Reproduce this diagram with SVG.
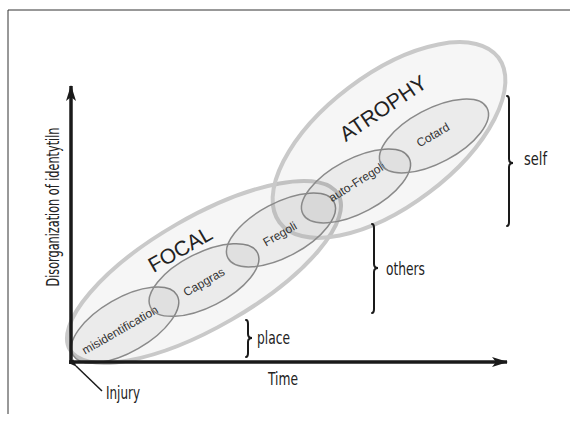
<svg xmlns="http://www.w3.org/2000/svg" width="570" height="423" viewBox="0 0 570 423">
<defs>
<style>
.big{fill:#000;fill-opacity:0.035;stroke:#c9c9c9;stroke-width:4}
.small{fill:#000;fill-opacity:0.045;stroke:#8a8a8a;stroke-width:1.5}
.lbl{font-family:"Liberation Sans",Arial,sans-serif;font-size:12px;fill:#333;text-anchor:middle;dominant-baseline:central}
.big-lbl{font-family:"Liberation Sans",Arial,sans-serif;font-size:21px;fill:#222;text-anchor:middle;dominant-baseline:central}
.cond{font-family:"Liberation Sans Narrow","DejaVu Sans Condensed","Liberation Sans",sans-serif;font-size:17px;fill:#222}
.axis{stroke:#1a1a1a;stroke-width:3.5;fill:none}
.brace{stroke:#1a1a1a;stroke-width:2;fill:none;stroke-linecap:round}
</style>
<marker id="ah" markerWidth="16" markerHeight="10" refX="15" refY="5" orient="auto" markerUnits="userSpaceOnUse">
<path d="M0,0 L16,5 L0,10 L4,5 Z" fill="#1a1a1a"/>
</marker>
<marker id="ahs" markerWidth="8" markerHeight="6" refX="1" refY="3" orient="auto" markerUnits="userSpaceOnUse">
<path d="M8,0 L0,3 L8,6 Z" fill="#1a1a1a"/>
</marker>
</defs>
<rect width="570" height="423" fill="#fff"/>
<g id="frame" stroke="#333" stroke-width="1" fill="none">
<path d="M8,414 L8,10 L570,10"/>
</g>
<g id="focal">
<ellipse class="big" cx="204" cy="272" rx="155" ry="55" transform="rotate(-30 204 272)"/>
<text class="big-lbl" x="180" y="249" transform="rotate(-30 180 249)">FOCAL</text>
</g>
<g id="atrophy">
<ellipse class="big" cx="389" cy="140" rx="137" ry="66" transform="rotate(-37 389 140)"/>
<text class="big-lbl" x="383" y="108" transform="rotate(-34 383 108)">ATROPHY</text>
</g>
<g id="misidentification">
<ellipse class="small" cx="125" cy="325" rx="60" ry="27" transform="rotate(-30 125 325)"/>
<text class="lbl" x="120" y="330" transform="rotate(-30 120 330)">misidentification</text>
</g>
<g id="capgras">
<ellipse class="small" cx="204" cy="280" rx="60" ry="27" transform="rotate(-27 204 280)"/>
<text class="lbl" x="204" y="282" transform="rotate(-30 204 282)">Capgras</text>
</g>
<g id="fregoli">
<ellipse class="small" cx="281" cy="230" rx="60" ry="27" transform="rotate(-28 281 230)"/>
<text class="lbl" x="280" y="234" transform="rotate(-30 280 234)">Fregoli</text>
</g>
<g id="auto-fregoli">
<ellipse class="small" cx="356" cy="186" rx="60" ry="27" transform="rotate(-28 356 186)"/>
<text class="lbl" x="357" y="182" transform="rotate(-32 357 182)">auto-Fregoli</text>
</g>
<g id="cotard">
<ellipse class="small" cx="434" cy="136" rx="60" ry="27" transform="rotate(-28 434 136)"/>
<text class="lbl" x="433" y="135" transform="rotate(-30 433 135)">Cotard</text>
</g>
<g id="connectors">
<path class="axis" d="M71,364 L71,86" marker-end="url(#ah)"/>
<path class="axis" d="M69,362 L507,362" marker-end="url(#ah)"/>
<path d="M102,391 L76,366" stroke="#1a1a1a" stroke-width="1.5" fill="none" marker-end="url(#ahs)"/>
<path class="brace" d="M246,320 Q248,320 248,324 L248,334 Q248,338 252,338 Q248,338 248,342 L248,353 Q248,357 246,357"/>
<path class="brace" d="M372,224 Q374,224 374,228 L374,264 Q374,268 378,268 Q374,268 374,272 L374,309 Q374,313 372,313"/>
<path class="brace" d="M507,96 Q509,96 509,100 L509,159 Q509,163 513,163 Q509,163 509,167 L509,222 Q509,226 507,226"/>
</g>
<g id="texts">
<text class="cond" x="53" y="207" text-anchor="middle" dominant-baseline="central" transform="rotate(-90 53 207)" textLength="159" lengthAdjust="spacingAndGlyphs">Disorganization of identytiln</text>
<text class="cond" x="268" y="385" textLength="30" lengthAdjust="spacingAndGlyphs">Time</text>
<text class="cond" x="106" y="399" textLength="34" lengthAdjust="spacingAndGlyphs">Injury</text>
<text class="cond" x="257" y="344" textLength="33" lengthAdjust="spacingAndGlyphs">place</text>
<text class="cond" x="386" y="275" textLength="39" lengthAdjust="spacingAndGlyphs">others</text>
<text class="cond" x="524" y="165" textLength="23" lengthAdjust="spacingAndGlyphs">self</text>
</g>
</svg>
